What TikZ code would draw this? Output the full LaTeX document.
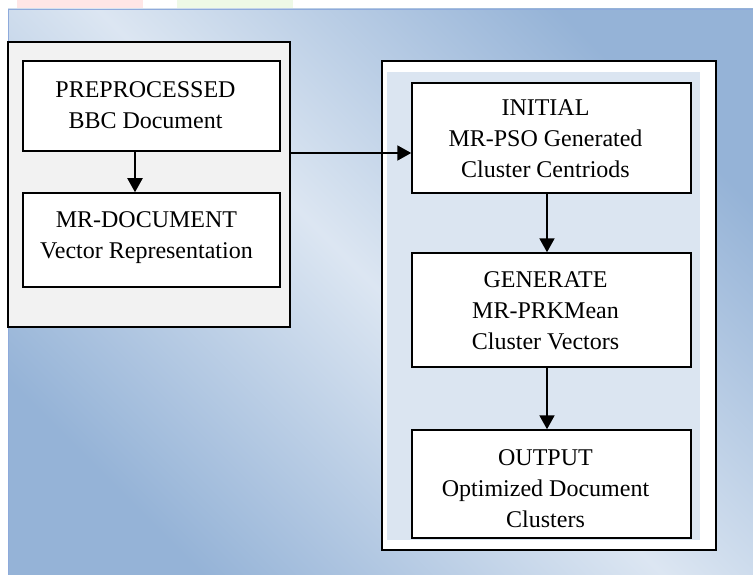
\documentclass[tikz,border=0pt]{standalone}
\usepackage{fontspec}
\setmainfont{Liberation Serif}
\usetikzlibrary{arrows.meta,calc}
\definecolor{bgdark}{HTML}{95B3D7}
\definecolor{bglight}{HTML}{DCE6F2}
\definecolor{bgedge}{HTML}{8EAADB}
\definecolor{panelblue}{HTML}{DBE5F1}
\definecolor{graybox}{HTML}{F2F2F2}
\definecolor{faintpink}{HTML}{FFE6E6}
\definecolor{faintgreen}{HTML}{EEF9E6}
\begin{document}
\begin{tikzpicture}[x=1pt,y=-1pt,
  procbox/.style={draw=black, line width=1.5pt, fill=white, inner sep=0pt},
  boxtext/.style={inner sep=0pt, align=center, font=\fontsize{24}{31}\selectfont},
  groupbox/.style={draw=black, line width=1.5pt, inner sep=0pt},
  flow/.style={line width=2pt, -{Triangle[length=14pt,width=15pt]}}]
\useasboundingbox (0,0) rectangle (753,575);
\fill[white] (0,0) rectangle (753,575);
\fill[faintpink] (17,0) rectangle (143,8);
\fill[faintgreen] (177,0) rectangle (293,8);
\shade[top color=bgdark,bottom color=bgdark,middle color=bglight,shading angle=-45] (8,9) rectangle (753,575);
\draw[bgedge, line width=1pt] (8.5,575) -- (8.5,9.5) -- (753,9.5);
% group frames
\node[groupbox, fill=graybox, minimum width=282, minimum height=285] (leftouter) at (149,184.5) {};
\node[groupbox, fill=white, minimum width=334, minimum height=489] (rightouter) at (549,305.5) {};
\node[fill=panelblue, inner sep=0pt, minimum width=313, minimum height=468] (panel) at (543.5,306) {};
% process boxes
\node[procbox, minimum width=257, minimum height=90] (box1) at (151.5,106) {};
\node[procbox, minimum width=257, minimum height=94] (box2) at (151.5,240) {};
\node[procbox, minimum width=279, minimum height=110] (initial) at (551.5,138) {};
\node[procbox, minimum width=279, minimum height=114] (generate) at (551.5,310) {};
\node[procbox, minimum width=279, minimum height=108] (output) at (551.5,484) {};
% texts
\node[boxtext] (box1t) at ($(box1.center)+(-6,-1)$) {PREPROCESSED\\BBC Document};
\node[boxtext] (box2t) at ($(box2.center)+(-5,-2)$) {MR-DOCUMENT\\Vector Representation};
\node[boxtext] (initialt) at ($(initial.center)+(-6,1)$) {INITIAL\\MR-PSO Generated\\Cluster Centriods};
\node[boxtext] (generatet) at ($(generate.center)+(-6,1)$) {GENERATE\\MR-PRKMean\\Cluster Vectors};
\node[boxtext] (outputt) at ($(output.center)+(-6,5)$) {OUTPUT\\Optimized Document\\Clusters};
% connectors
\coordinate (a1) at (135,0);
\coordinate (a2) at (0,153);
\coordinate (a3) at (547,0);
\draw[flow] (box1.south -| a1) -- (box2.north -| a1);
\draw[flow] (leftouter.east |- a2) -- (initial.west |- a2);
\draw[flow] (initial.south -| a3) -- (generate.north -| a3);
\draw[flow] (generate.south -| a3) -- (output.north -| a3);
\end{tikzpicture}
\end{document}
